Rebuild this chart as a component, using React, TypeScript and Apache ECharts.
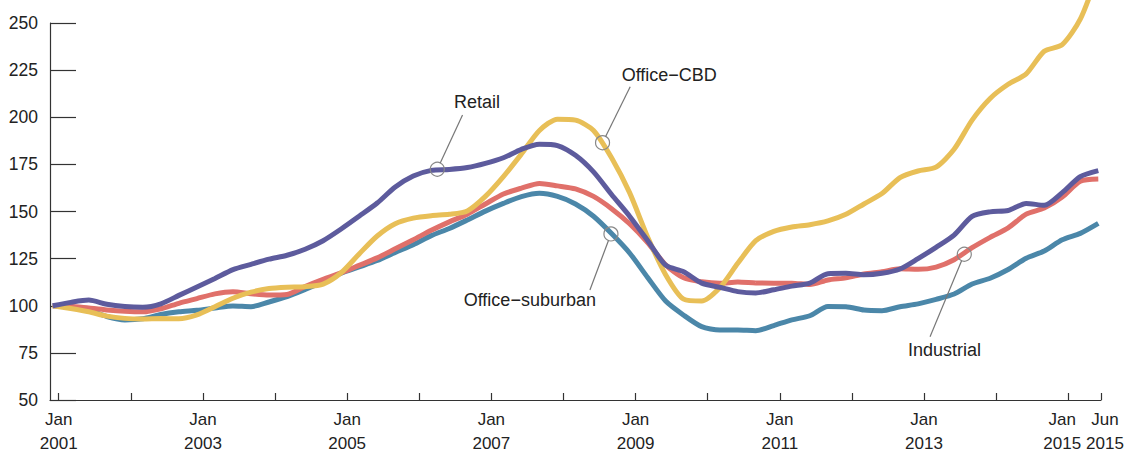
import React, { useEffect, useRef } from "react";
import * as echarts from "echarts";

// Months since Jan 2001 (0 = Jan 2001), sampled quarterly from Dec 2000 to Jun 2015
const months: number[] = [];
for (let m = -1; m <= 173; m += 3) months.push(m);

const retail = [
  100, 101.8, 103, 100.8, 99.6, 99.2, 101.0, 105.5, 110.0, 114.5,
  119.2, 122, 124.7, 126.8, 130, 134.5, 140.7, 147.5, 154.5, 163,
  168.8, 171.8, 172.3, 173.3, 175.5, 178.5, 183, 185.7, 185, 179.8,
  171, 159, 147.5, 134.6, 121.5, 118, 112, 109.8, 107.5, 106.8,
  108.5, 110.4, 112, 117, 117.2, 116.4, 117.2, 119.5, 125, 131,
  137.5, 147.4, 149.8, 150.5, 154.3, 153.3, 160, 168.5, 171.7,
];

const officeCBD = [
  100, 98.5, 96.8, 94.5, 93.3, 93.0, 93.2, 93.1, 95.2, 99.5,
  104, 107.2, 109.1, 109.8, 110.1, 111.5, 117.5, 127.5, 137, 143.5,
  146.5, 147.8, 148.5, 150.3, 158, 168.5, 180.5, 193, 199, 198.5,
  193, 178.5, 160, 136.5, 116.5, 103.5, 102.5, 109.5, 122.5, 134.5,
  139.5, 141.8, 143, 145, 148.5, 154, 159.5, 168, 171.5, 173.5,
  183, 198.5, 210, 217.5, 223, 235, 238.5, 252, 277,
];

const industrial = [
  100, 99.8, 98.8, 97.8, 97.1, 96.8, 98.4, 101.3, 103.8, 106.3,
  107.4, 106.4, 105.7, 106, 110.2, 114, 117.4, 121.4, 125.4, 130.2,
  135, 140, 144.5, 148.6, 154, 159.3, 162.4, 164.9, 163.6, 162,
  158, 151.5, 143.5, 133.5, 121.7, 114.8, 112.7, 111.9, 112.6, 112.1,
  112, 112, 111.3, 113.7, 114.8, 116.8, 118, 119.6, 119.3, 120.5,
  124.4, 130.8, 136.3, 141.3, 148.6, 151.8, 157.7, 166, 167.2,
];

const officeSuburban = [
  100, 99.3, 97.8, 94.3, 92.5, 93.1, 95.4, 96.8, 97.6, 98.8,
  99.9, 99.5, 102, 104.8, 108.6, 112.7, 117.3, 120.6, 124, 128.3,
  132.4, 137.2, 141, 145.5, 150.2, 154.3, 157.9, 159.7, 158, 154,
  147.5, 138.3, 128, 115, 102.5, 95, 88.9, 87.1, 87.1, 86.8,
  89.5, 92.5, 94.7, 99.6, 99.5, 97.7, 97.4, 99.5, 101, 103.4,
  106.2, 111.5, 114.6, 119.2, 125.2, 129, 135, 138.4, 143.7,
];

const X_MIN = -1.45;
const X_MAX = 173.45; // end of Jun 2015
const tickMonths = [0, 12, 24, 36, 48, 60, 72, 84, 96, 108, 120, 132, 144, 156, 168, X_MAX];
const labelMonths = [0, 24, 48, 72, 96, 120, 144, 168];
const labelTexts = [
  "Jan\n2001", "Jan\n2003", "Jan\n2005", "Jan\n2007", "Jan\n2009",
  "Jan\n2011", "Jan\n2013", "Jan\n2015",
];
const endLabelText = "Jun\n2015";

// Annotations: circle on line (data coords), leader end, label centre
const annotations = [
  { text: "Retail", circle: [63.0, 172.4], leader: [67.2, 201.2], label: [69.6, 208.2] },
  { text: "Office\u2212CBD", circle: [90.5, 186.5], leader: [95.1, 216.2], label: [101.6, 222.4] },
  { text: "Office\u2212suburban", circle: [91.9, 138.1], leader: [88.4, 108.4], label: [78.4, 103] },
  { text: "Industrial", circle: [150.7, 127.3], leader: [145.0, 83.6], label: [147.4, 76.5] },
];

const FONT = '"Liberation Sans", Arial, sans-serif';
const XFS = 17;
const XLH = 24;

export default function App() {
  const ref = useRef<HTMLDivElement>(null);
  useEffect(() => {
    if (!ref.current) return;
    const chart = echarts.init(ref.current, null, { renderer: "svg" });
    const mk = (name: string, vals: number[], color: string, z: number) => ({
      name,
      type: "line",
      data: months.map((m, i) => [m, vals[i]]),
      showSymbol: false,
      smooth: 0.25,
      clip: false,
      z,
      lineStyle: { color, width: 5 },
      itemStyle: { color },
    });
    const richBase = { fontSize: XFS, lineHeight: XLH, fontFamily: FONT, color: "#222" };
    const labelBase = {
      color: "#222",
      fontSize: XFS,
      lineHeight: XLH,
      fontFamily: FONT,
      margin: 7,
      showMinLabel: true,
      showMaxLabel: true,
      hideOverlap: false,
    };
    chart.setOption({
      animation: false,
      grid: { left: 50, right: 25, top: 23, bottom: 54, outerBoundsMode: "none", containLabel: false },
      xAxis: [
        {
          type: "value",
          min: X_MIN,
          max: X_MAX,
          splitLine: { show: false },
          axisLine: { show: true, onZero: false, lineStyle: { color: "#333", width: 1.2 } },
          axisTick: {
            show: true,
            inside: true,
            length: 7,
            customValues: tickMonths,
            lineStyle: { color: "#333", width: 1.2 },
          },
          axisLabel: {
            ...labelBase,
            customValues: labelMonths,
            formatter: (v: number) => {
              const i = labelMonths.indexOf(Math.round(v));
              if (i < 0) return "";
              const style = i === labelMonths.length - 1 ? "l" : "c";
              return labelTexts[i].split("\n").map((p) => `{${style}|${p}}`).join("\n");
            },
            rich: {
              c: { ...richBase },
              l: { ...richBase, padding: [0, 12, 0, 0] },
            },
          },
        },
        {
          type: "value",
          position: "bottom",
          min: X_MIN,
          max: X_MAX,
          splitLine: { show: false },
          axisLine: { show: false, onZero: false },
          axisTick: { show: false },
          axisLabel: {
            ...labelBase,
            customValues: [X_MAX],
            formatter: () => endLabelText.split("\n").map((p) => `{r|${p}}`).join("\n"),
            rich: { r: { ...richBase, padding: [0, 0, 0, 8] } },
          },
        },
      ],
      yAxis: {
        type: "value",
        min: 50,
        max: 250,
        interval: 25,
        splitLine: { show: false },
        axisLine: { show: true, onZero: false, lineStyle: { color: "#333", width: 1.2 } },
        axisTick: { show: true, inside: true, length: 26, lineStyle: { color: "#333", width: 1.2 } },
        axisLabel: { color: "#222", fontSize: 17.5, fontFamily: FONT, margin: 12 },
      },
      series: [
        mk("Office-suburban", officeSuburban, "#4B87A9", 2),
        mk("Industrial", industrial, "#E0706A", 3),
        mk("Office-CBD", officeCBD, "#E8BF57", 4),
        mk("Retail", retail, "#5D5B9D", 5),
      ],
    });

    const graphic: any[] = [];
    annotations.forEach((a) => {
      const c = chart.convertToPixel({ gridIndex: 0 }, a.circle) as number[];
      const l = chart.convertToPixel({ gridIndex: 0 }, a.leader) as number[];
      const t = chart.convertToPixel({ gridIndex: 0 }, a.label) as number[];
      const r = 7;
      const dx = l[0] - c[0];
      const dy = l[1] - c[1];
      const d = Math.sqrt(dx * dx + dy * dy);
      graphic.push({
        type: "circle",
        z: 100,
        shape: { cx: c[0], cy: c[1], r },
        style: { fill: "none", stroke: "#888", lineWidth: 1.2 },
      });
      graphic.push({
        type: "line",
        z: 100,
        shape: { x1: c[0] + (dx / d) * r, y1: c[1] + (dy / d) * r, x2: l[0], y2: l[1] },
        style: { stroke: "#777", lineWidth: 1.2 },
      });
      graphic.push({
        type: "text",
        z: 100,
        style: {
          text: a.text,
          x: t[0],
          y: t[1],
          align: "center",
          verticalAlign: "middle",
          fill: "#222",
          fontSize: 18,
          fontFamily: FONT,
        },
      });
    });
    chart.setOption({ graphic });

    return () => chart.dispose();
  }, []);
  return (
    <div
      ref={ref}
      style={{ position: "absolute", left: 0, top: 0, width: 1126, height: 454 }}
    />
  );
}
